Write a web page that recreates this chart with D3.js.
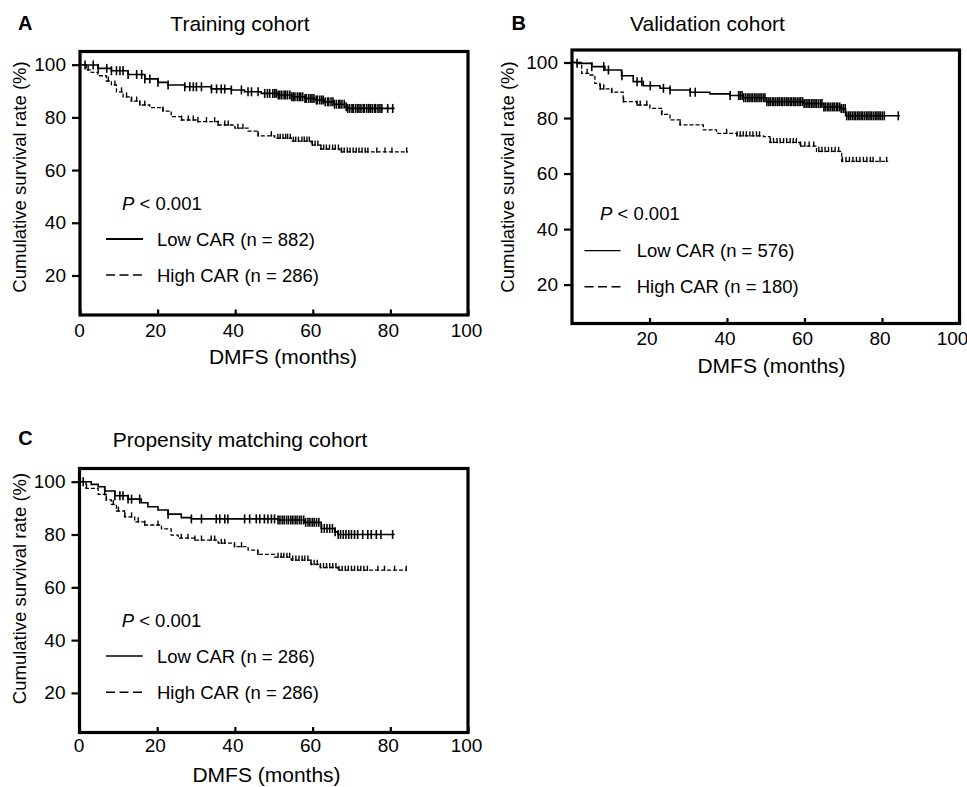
<!DOCTYPE html>
<html>
<head>
<meta charset="utf-8">
<script src="https://cdn.jsdelivr.net/npm/d3@7"></script>
<style>
  body { margin: 0; background: #fff; }
  svg { display: block; }
  text { font-family: "Liberation Sans", Arial, Helvetica, sans-serif; fill: #000; }
</style>
</head>
<body>
<svg id="chart" width="967" height="787"></svg>
<script>
// ---- Kaplan–Meier step points: [month, survival %] ----
const lowTrain = [[0,100],[0.8,99.9],[4.6,98.6],[8.1,97.7],[12.4,96.3],[16.7,94.6],[20.1,93.3],[22.7,92.3],[27,91.6],[33.8,90.8],[39,90.4],[42.4,89.7],[46.7,89.1],[51,88.5],[54.5,87.8],[57.9,87.2],[60.5,86.6],[63,85.9],[65.5,85],[68.2,84],[69,83.4],[81.1,83.4]];
const highTrain = [[0,100],[1.6,98],[2.9,97.1],[4.6,95.8],[6.8,93.8],[8.1,92.3],[9.4,89.7],[11.1,87.8],[13.2,86.2],[15.4,84.7],[18,83.7],[21.4,82.4],[23.5,80.3],[26.1,79],[30.4,78.4],[35.6,77.1],[39.9,75.9],[43.3,74.8],[45.9,73],[50.2,72.1],[54.5,71],[59.6,69.5],[62,68],[67,66.9],[84.5,66.9]];
const lowValid = [[0,100],[1.2,99.7],[5.1,98.5],[8.5,97.3],[12.8,95.2],[15.8,93.1],[18.4,91.6],[22.7,90.7],[25.3,90.1],[30.5,89.3],[35.6,88.7],[40.8,88.1],[44.2,87.3],[50.2,85.9],[59.8,85.2],[64.9,84],[69.4,83.4],[70.6,80.8],[84.6,80.8]];
const highValid = [[0,100],[2.5,96.1],[4.6,95.5],[5.9,92.5],[7.2,90.5],[10.2,89.3],[13.2,85.9],[16.7,84.7],[20.1,83.5],[23.1,81.3],[25.3,79.3],[27.9,77.5],[33.9,75.7],[37.3,74.5],[42.5,73.6],[49.4,73.3],[51.1,71.2],[58.8,69.9],[63.1,68],[69.6,64.4],[81.6,64.4]];
const lowMatch = [[0,100],[3,99],[4.8,98.1],[6.5,96.5],[9.1,94.7],[12.5,93.4],[15.9,92],[17.6,90.5],[20.2,89.3],[22.8,87.7],[26.2,86.4],[28.8,85.9],[51.1,85.5],[57.9,84.6],[62.2,82.3],[65.7,81],[66.5,80],[81.1,80]];
const highMatch = [[0,100],[1.7,97.5],[4.8,95.2],[6.9,93.1],[8.2,91.4],[9.5,88.9],[11.6,86.7],[14.2,84.8],[16.8,83.6],[21.1,82.1],[23.6,79.8],[25.4,78.6],[29.7,77.9],[35.7,76.7],[39.9,75.4],[43.4,74.1],[45.9,72.5],[50.2,71.4],[54.5,70.3],[59.6,68.7],[62,67.5],[66.5,66.5],[84.1,66.5]];

// ---- Censoring times (months) ----
const lowTrainCens = [1.3,3.4,4.7,6.9,8.1,9.4,10.3,11.1,12.4,14.6,15.9,16.7,18,20.1,22.7,27,28.3,29.2,30,31.3,33.9,35.2,36.4,37.3,39,41.6,43.3,44.2,45.9,47.6,48.3,48.9,49.7,50.2,50.6,51.1,51.5,52,52.6,53,53.5,54.1,54.6,55,55.4,56,56.5,56.9,57.4,58,58.3,58.9,59.4,59.8,60.3,60.9,61.2,61.8,62.3,62.7,63.2,63.8,64.1,64.7,65.2,65.6,66.1,66.7,67,67.5,68.1,68.6,69,69.5,70.1,70.4,71,71.5,71.9,72.4,73,73.3,73.9,74.4,74.8,75.3,75.9,76.2,76.8,77.3,77.8,79.3,80.6];
const highTrainCens = [2.1,7.3,9,10.7,12,13.3,14.6,15.4,16.7,21.4,26.2,27.9,29.2,30.4,32.6,34.7,35.6,37.3,38.2,40.7,42,45.9,49.3,51,51.6,52.3,53,53.5,54.2,55,55.6,56.3,57.2,57.8,58.5,59.1,59.9,60.6,61.3,62.1,62.8,63.5,64.3,65.1,65.8,66.6,67.4,68.1,68.9,69.6,70.4,71.2,71.9,72.7,73.5,74.2,76.5,78.6,80.4,84.2];
const lowValidCens = [1.3,5.1,8.2,9.4,12.9,16.8,18,20.2,23.6,25.3,30.5,31.8,40.8,43,43.4,43.9,44.3,44.8,45.3,45.7,46.2,46.6,47.1,47.5,48,48.5,48.9,49.4,49.8,50.3,50.8,51.2,51.7,52.1,52.6,53.1,53.5,54,54.4,54.9,55.4,55.8,56.3,56.7,57.2,57.6,58.1,58.6,59,59.5,59.9,60.4,60.9,61.3,61.8,62.2,62.7,63.1,63.6,64.1,64.5,65,65.4,65.9,66.3,66.8,67.3,67.7,68.2,68.6,69.1,69.5,70,70.5,70.9,71.4,71.8,72.3,72.8,73.2,73.7,74.1,74.6,75,75.5,76,76.4,76.9,77.3,77.8,78.3,78.7,79.2,79.6,80.1,80.6,84.2];
const highValidCens = [3.9,7.3,8.2,10.3,13.3,16.8,17.6,19.3,23.2,27.9,39.9,42.6,43.4,44.2,45,45.9,46.7,47.6,48.4,51.2,52,52.9,53.7,54.6,55.4,56.3,57.1,57.9,59,60.1,61.2,62.4,63.7,64.5,65.3,66.2,67,67.9,68.8,69.8,70.7,71.6,72.5,73.4,74.3,75.2,76.1,77,77.7,79.5,81.2];
const lowMatchCens = [0.95,6.5,9.1,10.4,11.2,12.5,13.4,15.5,22.8,28.8,31.4,35.2,36.1,37.4,38.2,42.5,43.8,45.5,46.4,47.6,48.5,49.4,50.2,51.1,51.6,52.2,52.7,53.3,53.8,54.4,54.9,55.5,56,56.6,57.1,57.7,58.2,58.8,59.3,59.9,60.4,61,61.6,62.3,63,63.7,64.4,65.1,65.8,66.6,67.2,67.9,68.6,69.3,70,70.8,71.6,72.9,74.2,75.1,76.4,77.6,80.6];
const highMatchCens = [1.8,6.9,8.7,10,11.7,13.4,15.1,16.8,20.2,26.2,27.9,29.7,31.4,33.9,34.8,36.5,37.4,39.9,41.7,45.9,51.1,51.9,52.6,53.4,54.1,54.9,55.7,56.5,57.3,58,58.8,59.6,60.4,61.2,62,62.8,63.6,64.4,65.2,66,66.8,67.6,68.4,69.2,70,70.8,71.6,72.4,73.2,74.1,76.8,78.5,81.1,84.1];

// ---- Axis ticks and text ----
const xTicksFull = [0, 20, 40, 60, 80, 100];
const xTicksNoZero = [20, 40, 60, 80, 100];
const yTickValues = [20, 40, 60, 80, 100];
const panelLetters = ["A", "B", "C"];
const panelTitles = ["Training cohort", "Validation cohort", "Propensity matching cohort"];
const lowLabels = ["Low CAR (n = 882)", "Low CAR (n = 576)", "Low CAR (n = 286)"];
const highLabels = ["High CAR (n = 286)", "High CAR (n = 180)", "High CAR (n = 286)"];
const pText = " < 0.001";
const xTitle = "DMFS (months)";
const yTitle = "Cumulative survival rate (%)";

// ---- Layout of the three panels ----
const panels = [
  { low: lowTrain, high: highTrain, lowC: lowTrainCens, highC: highTrainCens, xt: xTicksFull, yDom: [5, 105],
    box: { l: 80, t: 51.5, r: 468, b: 315 }, xPad: 8.5, xdx: [-1, -2.5, -2.5, -2.5, -2.5, -2],
    letter: [18, 29.5], title: [240, 31], yT: [26, 177], xT: [283, 363.5],
    leg: { px: 122, py: 209.6, x0: 106, x1: 143, y1: 239, y2: 275, tx: 157, lw: 2 } },
  { low: lowValid, high: highValid, lowC: lowValidCens, highC: highValidCens, xt: xTicksNoZero, yDom: [6, 104.5],
    box: { l: 572, t: 50, r: 959.5, b: 323.5 }, xPad: 8, xdx: [-3, -2.5, -2.5, -2.5, -7.5],
    letter: [511.5, 29.5], title: [707.5, 31], yT: [513.5, 177], xT: [771.5, 372.5],
    leg: { px: 600, py: 220, x0: 584.5, x1: 620.5, y1: 250.7, y2: 286.7, tx: 636.7, lw: 1.3 } },
  { low: lowMatch, high: highMatch, lowC: lowMatchCens, highC: highMatchCens, xt: xTicksFull, yDom: [5, 105],
    box: { l: 79.5, t: 468.5, r: 468, b: 732.5 }, xPad: 6, xdx: [-1, -2.5, -2.5, -2.5, -2.5, -2],
    letter: [18.3, 445], title: [240, 446.5], yT: [26, 588.5], xT: [266.5, 781.5],
    leg: { px: 121.7, py: 626.6, x0: 106, x1: 142.7, y1: 656, y2: 692.3, tx: 157, lw: 1.3 } }
];

const svg = d3.select("#chart");

function survivalAt(steps, t) {
  let v = steps[0][1];
  for (const s of steps) { if (s[0] <= t) v = s[1]; else break; }
  return v;
}

panels.forEach((p, i) => {
  const g = svg.append("g");
  const x = d3.scaleLinear().domain([0, 100]).range([p.box.l, p.box.r]);
  const y = d3.scaleLinear().domain(p.yDom).range([p.box.b, p.box.t]);

  // letter and title
  g.append("text").attr("x", p.letter[0]).attr("y", p.letter[1])
    .attr("font-size", 20).attr("font-weight", "bold").text(panelLetters[i]);
  g.append("text").attr("x", p.title[0]).attr("y", p.title[1])
    .attr("font-size", 21).attr("text-anchor", "middle").text(panelTitles[i]);

  // axes
  const yAxis = g.append("g").attr("transform", `translate(${p.box.l},0)`)
    .call(d3.axisLeft(y).tickValues(yTickValues).tickSize(8).tickPadding(6));
  const xAxis = g.append("g").attr("transform", `translate(0,${p.box.b})`)
    .call(d3.axisBottom(x).tickValues(p.xt).tickSize(-5.5).tickPadding(p.xPad));
  [yAxis, xAxis].forEach(a => {
    a.select(".domain").remove();
    a.selectAll(".tick line").attr("stroke", "#000").attr("stroke-width", 2.2);
    a.selectAll(".tick text").attr("font-size", 19).attr("fill", "#000")
      .style("font-family", '"Liberation Sans", Arial, sans-serif');
  });
  xAxis.selectAll(".tick text").attr("dx", (d, k) => p.xdx[k]);

  // axis titles
  g.append("text").attr("transform", `translate(${p.yT[0]},${p.yT[1]}) rotate(-90)`)
    .attr("font-size", 18.5).attr("text-anchor", "middle").text(yTitle);
  g.append("text").attr("x", p.xT[0]).attr("y", p.xT[1])
    .attr("font-size", 21).attr("text-anchor", "middle").text(xTitle);

  // survival curves
  const line = d3.line().x(d => x(d[0])).y(d => y(d[1])).curve(d3.curveStepAfter);
  g.append("path").datum(p.high).attr("d", line)
    .attr("fill", "none").attr("stroke", "#000").attr("stroke-width", 1.3)
    .attr("stroke-dasharray", "4,2");
  g.append("path").datum(p.low).attr("d", line)
    .attr("fill", "none").attr("stroke", "#000").attr("stroke-width", 1.6);

  // censor marks
  g.append("g").selectAll("line").data(p.lowC).join("line")
    .attr("x1", d => x(d)).attr("x2", d => x(d))
    .attr("y1", d => y(survivalAt(p.low, d)) - 4.5).attr("y2", d => y(survivalAt(p.low, d)) + 4.5)
    .attr("stroke", "#000").attr("stroke-width", 1.6);
  g.append("g").selectAll("line").data(p.highC).join("line")
    .attr("x1", d => x(d)).attr("x2", d => x(d))
    .attr("y1", d => y(survivalAt(p.high, d)) - 4.5).attr("y2", d => y(survivalAt(p.high, d)) + 0.8)
    .attr("stroke", "#000").attr("stroke-width", 1.4);

  // frame
  g.append("rect").attr("x", p.box.l).attr("y", p.box.t)
    .attr("width", p.box.r - p.box.l).attr("height", p.box.b - p.box.t)
    .attr("fill", "none").attr("stroke", "#000").attr("stroke-width", 3.2);

  // legend
  const L = p.leg;
  const pt = g.append("text").attr("x", L.px).attr("y", L.py).attr("font-size", 18.5);
  pt.append("tspan").attr("font-style", "italic").text("P");
  pt.append("tspan").text(pText);
  g.append("line").attr("x1", L.x0).attr("x2", L.x1).attr("y1", L.y1).attr("y2", L.y1)
    .attr("stroke", "#000").attr("stroke-width", L.lw);
  g.append("line").attr("x1", L.x0).attr("x2", L.x1).attr("y1", L.y2).attr("y2", L.y2)
    .attr("stroke", "#000").attr("stroke-width", 1.5).attr("stroke-dasharray", "9,4.5");
  g.append("text").attr("x", L.tx).attr("y", L.y1 + 6.6).attr("font-size", 18.5).text(lowLabels[i]);
  g.append("text").attr("x", L.tx).attr("y", L.y2 + 6.6).attr("font-size", 18.5).text(highLabels[i]);
});
</script>
</body>
</html>
